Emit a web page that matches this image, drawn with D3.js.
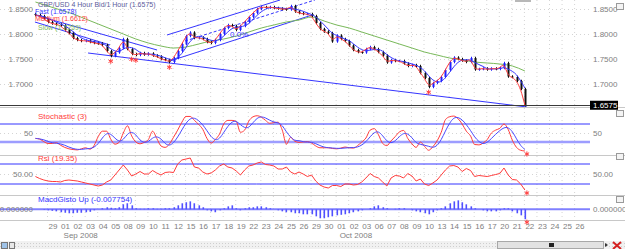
<!DOCTYPE html>
<html>
<head>
<meta charset="utf-8">
<script src="https://cdn.jsdelivr.net/npm/d3@7"></script>
<style>
  body { margin: 0; background: #fff; overflow: hidden; }
  text { font-family: "Liberation Sans", Arial, sans-serif; font-size: 8px; }
</style>
</head>
<body>
<div id="chart"></div>
<script>
// GBP/USD 4 hour chart, 28 Aug - 22 Oct 2008, three indicator panels below

const dayLabels = ["29","01","02","03","04","05","08","09","10","11","12","15","16","17","18","19",
  "22","23","24","25","26","29","30","01","02","03","06","07","08","09","10","13","14","15","16","17",
  "20","21","22","23","24","25","26"];
const monthLabels = [{day: 1, text: "Sep 2008"}, {day: 23, text: "Oct 2008"}];
const priceTicks = [1.70, 1.75, 1.80, 1.85];

// one value every 8 hours, starting 28 Aug
const closes = [
  1.838,1.836,1.830,1.824,1.821,1.819,1.817,1.808,1.802,1.792,
  1.788,1.786,1.787,1.784,1.782,1.781,1.778,1.766,1.756,1.763,
  1.772,1.790,1.770,1.760,1.758,1.762,1.759,1.761,1.757,1.755,
  1.750,1.748,1.744,1.752,1.766,1.780,1.796,1.803,1.792,1.793,
  1.790,1.784,1.782,1.788,1.800,1.812,1.818,1.816,1.808,1.816,
  1.824,1.834,1.842,1.850,1.854,1.853,1.854,1.852,1.851,1.850,
  1.849,1.856,1.845,1.842,1.840,1.840,1.836,1.822,1.810,1.805,
  1.802,1.785,1.797,1.790,1.786,1.777,1.768,1.764,1.763,1.770,
  1.774,1.770,1.764,1.757,1.743,1.748,1.746,1.746,1.741,1.736,
  1.738,1.736,1.722,1.712,1.694,1.702,1.706,1.714,1.728,1.744,
  1.753,1.750,1.747,1.744,1.752,1.729,1.730,1.731,1.729,1.731,
  1.730,1.732,1.742,1.715,1.714,1.706,1.690,1.6575];

// slow moving average, one value per day
const slowMA = [
  1.864,1.856,1.848,1.840,1.830,1.820,1.810,1.800,1.790,1.782,
  1.776,1.772,1.774,1.780,1.786,1.790,1.796,1.804,1.812,1.818,
  1.824,1.828,1.834,1.826,1.818,1.812,1.804,1.796,1.788,1.780,
  1.772,1.764,1.758,1.752,1.748,1.744,1.742,1.740,1.736,1.726];

const stochK = [
  35,33,26,21,21,23,16,10,6,4,
  3,6,9,5,15,40,55,55,33,19,
  24,50,70,42,25,20,24,32,55,35,
  14,10,19,38,58,80,96,96,85,74,
  60,35,22,32,47,75,85,85,82,52,
  58,83,95,98,94,85,77,79,80,58,
  19,38,27,24,25,26,22,14,9,9,
  9,7,6,8,11,9,8,15,25,36,
  58,62,45,21,15,28,40,53,57,35,
  20,10,25,13,2,12,28,52,87,95,
  97,90,75,55,42,18,17,22,32,50,
  58,63,75,60,30,10,2,0];

const rsi = [
  45,41,38,36,35,35,34,37,38,37,
  36,34,32,30,28,26,28,34,38,48,
  58,68,58,46,50,55,50,50,57,52,
  48,53,54,53,70,78,80,82,64,62,
  54,50,52,58,66,70,64,62,56,48,
  58,66,68,72,74,69,68,66,60,60,
  64,54,50,54,50,45,48,36,28,24,
  22,27,27,25,30,30,28,29,34,42,
  51,45,42,34,26,42,47,46,42,51,
  46,36,40,30,27,32,38,48,58,66,
  67,64,55,61,57,45,47,46,45,47,
  49,51,62,48,39,38,30,18];

const macd = [
  0,0,-0.0004,-0.0008,-0.0012,-0.0016,-0.0023,-0.0027,-0.0031,-0.0031,
  -0.0027,-0.0027,-0.0023,-0.0020,-0.0008,0,0.0008,0.0016,0.0012,0.0008,
  0.0016,0.0039,0.0047,0.0031,0.0008,0.0004,0.0004,0.0008,0.0008,0.0004,
  0.0004,0.0008,0.0008,0.0016,0.0031,0.0047,0.0055,0.0062,0.0047,0.0031,
  0.0016,-0.0008,-0.0016,-0.0023,-0.0008,0.0008,0.0023,0.0031,0.0008,-0.0008,
  0.0008,0.0016,0.0016,0.0023,0.0023,0.0016,0.0008,0,-0.0008,-0.0016,
  -0.0023,-0.0023,-0.0031,-0.0031,-0.0039,-0.0039,-0.0039,-0.0055,-0.0070,-0.0070,
  -0.0062,-0.0055,-0.0047,-0.0043,-0.0039,-0.0031,-0.0023,-0.0016,-0.0008,0,
  0.0008,0.0023,0.0031,0.0016,0.0008,0,0.0004,0.0008,0.0008,0,
  -0.0008,-0.0016,-0.0023,-0.0031,-0.0039,-0.0023,-0.0008,0.0008,0.0023,0.0047,
  0.0062,0.0070,0.0055,0.0039,0.0023,0.0008,0,-0.0008,-0.0016,-0.0016,
  -0.0016,-0.0008,0.0008,0.0008,-0.0016,-0.0031,-0.0047,-0.007754];

// fractal lows (sample index)
const fractals = [18, 23, 24, 32, 94, 117];

// hand drawn lines: [day, price] pairs
const trendLines = [
  {pts: [[-1.04, 1.838], [8.69, 1.768]]},
  {pts: [[-1.04, 1.824], [4.94, 1.778]]},
  {pts: [[3.19, 1.762], [38.17, 1.654]]},
  {pts: [[9.48, 1.798], [18.49, 1.868]]},
  {pts: [[9.72, 1.746], [21.04, 1.838]]},
  {pts: [[10.92, 1.786], [21.27, 1.868]], dash: true}
];

const width = 625, height = 249;
const plotRight = 590;
const blue = "#3535ff", red = "#ff3b3b", green = "#79b95a", grey = "#808080";

const svg = d3.select("#chart").append("svg")
    .attr("width", width)
    .attr("height", height);

svg.append("rect").attr("width", width).attr("height", height).attr("fill", "#fff");

// scales
const x = d3.scaleLinear().domain([0, 42]).range([48, 48 + 42 * 12.55]);
const xk = d3.scaleLinear().domain([0, closes.length - 1]).range([x(-1), x(38)]);
const yP = d3.scaleLinear().domain([1.65, 1.85]).range([109, 9]);
const yS = d3.scaleLinear().domain([0, 100]).range([151, 115]);
const yR = d3.scaleLinear().domain([0, 100]).range([199, 149]);
const yM = d3.scaleLinear().domain([-0.01, 0.01]).range([222.1, 196.5]);

const rolling = (arr, n) => arr.map((v, i) => d3.mean(arr.slice(Math.max(0, i - n + 1), i + 1)));

// clip paths per panel
const defs = svg.append("defs");
const panels = {main: [0, 107], stoch: [109, 154], rsi: [156, 194], macd: [196, 220]};
Object.entries(panels).forEach(([k, r]) => {
  defs.append("clipPath").attr("id", "clip-" + k)
    .append("rect").attr("x", 0).attr("y", r[0]).attr("width", plotRight).attr("height", r[1] - r[0]);
});

// vertical dotted grid, one per day
svg.append("g").selectAll("line")
  .data(d3.range(dayLabels.length))
  .join("line")
    .attr("x1", d => x(d) - 0.5).attr("x2", d => x(d) - 0.5)
    .attr("y1", 0).attr("y2", 220)
    .attr("stroke", "#d4d4d4")
    .attr("stroke-dasharray", "1,3");

// horizontal dotted grid
const hGrid = [...priceTicks.map(yP), yS(50), yR(50)];
svg.append("g").selectAll("line")
  .data(hGrid)
  .join("line")
    .attr("x1", 0).attr("x2", plotRight)
    .attr("y1", d => Math.round(d) + 0.5).attr("y2", d => Math.round(d) + 0.5)
    .attr("stroke", "#d4d4d4")
    .attr("stroke-dasharray", "1,3");

// panel separators
svg.append("g").selectAll("line")
  .data([107.5, 155.5, 195.5, 220.5])
  .join("line")
    .attr("x1", 0).attr("x2", width)
    .attr("y1", d => d).attr("y2", d => d)
    .attr("stroke", "#c8c8c8");

// ---------- main panel ----------
const main = svg.append("g").attr("clip-path", "url(#clip-main)");

main.selectAll(".trend")
  .data(trendLines)
  .join("line")
    .attr("x1", d => x(d.pts[0][0])).attr("y1", d => yP(d.pts[0][1]))
    .attr("x2", d => x(d.pts[1][0])).attr("y2", d => yP(d.pts[1][1]))
    .attr("stroke", blue)
    .attr("stroke-width", 1)
    .attr("stroke-dasharray", d => d.dash ? "3,2" : null);

main.append("path")
  .datum(slowMA)
  .attr("fill", "none")
  .attr("stroke", green)
  .attr("stroke-width", 1)
  .attr("d", d3.line().x((d, i) => x(i - 1)).y(d => yP(d)).curve(d3.curveMonotoneX));

const bars = closes.map((c, i) => {
  const o = i ? closes[i - 1] : c + 0.002;
  return {i, o, c, hi: Math.max(o, c) + 0.0025, lo: Math.min(o, c) - 0.0025};
});

main.selectAll(".wick")
  .data(bars)
  .join("line")
    .attr("x1", d => Math.round(xk(d.i)) + 0.5).attr("x2", d => Math.round(xk(d.i)) + 0.5)
    .attr("y1", d => yP(d.hi)).attr("y2", d => yP(d.lo))
    .attr("stroke", d => d.c >= d.o ? "#2020ff" : "#111");

main.selectAll(".body")
  .data(bars)
  .join("rect")
    .attr("x", d => Math.round(xk(d.i)) - 0.5)
    .attr("width", 2)
    .attr("y", d => yP(Math.max(d.o, d.c)))
    .attr("height", d => Math.max(1, yP(Math.min(d.o, d.c)) - yP(Math.max(d.o, d.c))))
    .attr("fill", d => d.c >= d.o ? "#2020ff" : "#111");

main.append("path")
  .datum(rolling(closes, 4))
  .attr("fill", "none")
  .attr("stroke", blue)
  .attr("stroke-width", 1)
  .attr("d", d3.line().x((d, i) => xk(i)).y(d => yP(d)).curve(d3.curveBasis));

main.append("path")
  .datum(closes)
  .attr("fill", "none")
  .attr("stroke", red)
  .attr("stroke-width", 1)
  .attr("d", d3.line().x((d, i) => xk(i)).y(d => yP(d)).curve(d3.curveBasis));

const mark = d3.symbol(d3.symbolAsterisk, 18);
main.selectAll(".fractal")
  .data(fractals)
  .join("path")
    .attr("d", mark)
    .attr("transform", d => `translate(${xk(d)},${yP(bars[d].lo) + 4})`)
    .attr("fill", "none")
    .attr("stroke", red);

// current price line
const last = closes[closes.length - 1];
svg.append("line")
  .attr("x1", 0).attr("x2", plotRight)
  .attr("y1", Math.round(yP(last)) + 0.5).attr("y2", Math.round(yP(last)) + 0.5)
  .attr("stroke", "#3a3a3a");
svg.append("rect")
  .attr("x", plotRight).attr("y", yP(last) - 4.5)
  .attr("width", 28).attr("height", 9)
  .attr("fill", "#000");
svg.append("text")
  .attr("x", plotRight + 3).attr("y", yP(last) + 3)
  .attr("fill", "#fff")
  .text(d3.format(".4f")(last));

// chart titles in the main panel
const legend = [
  {t: "GBP/USD 4 Hour Bid/1 Hour (1.6575)", c: "#5b5b9b", x: 38, y: 7},
  {t: "Fast (1.6578)", c: blue, x: 35, y: 14},
  {t: "Medium (1.6612)", c: red, x: 35, y: 21},
  {t: "Slow (1.7259)", c: green, x: 38, y: 30}
];
svg.append("g").selectAll("text")
  .data(legend)
  .join("text")
    .attr("x", d => d.x).attr("y", d => d.y)
    .attr("fill", d => d.c)
    .style("font-size", "7px")
    .text(d => d.t);
svg.append("text").attr("x", 230).attr("y", 37).attr("fill", blue).text("0.0%");

// price axes, left and right
const axisStyle = g => {
  g.select(".domain").remove();
  g.selectAll("text").attr("fill", grey).style("font-size", "8px")
    .style("font-family", "'Liberation Sans', Arial, sans-serif");
};
svg.append("g").attr("transform", "translate(35,0)")
  .call(d3.axisLeft(yP).tickValues(priceTicks).tickFormat(d3.format(".4f")).tickSize(0).tickPadding(2))
  .call(axisStyle);
svg.append("g").attr("transform", `translate(${plotRight},0)`)
  .call(d3.axisRight(yP).tickValues(priceTicks).tickFormat(d3.format(".4f")).tickSize(0).tickPadding(3))
  .call(axisStyle);

// ---------- stochastic ----------
const stoch = svg.append("g").attr("clip-path", "url(#clip-stoch)");
stoch.append("line").attr("x1", 0).attr("x2", plotRight)
  .attr("y1", yS(75)).attr("y2", yS(75)).attr("stroke", blue);
stoch.append("line").attr("x1", 0).attr("x2", plotRight)
  .attr("y1", yS(25)).attr("y2", yS(25)).attr("stroke", "#9d9dff").attr("stroke-width", 2.5);
stoch.append("path")
  .datum(stochK)
  .attr("fill", "none").attr("stroke", red)
  .attr("d", d3.line().x((d, i) => xk(i)).y(d => yS(d)).curve(d3.curveMonotoneX));
stoch.append("path")
  .datum(rolling(stochK, 3))
  .attr("fill", "none").attr("stroke", "#4a4aff")
  .attr("d", d3.line().x((d, i) => xk(i)).y(d => yS(d)).curve(d3.curveBasis));
svg.append("text").attr("x", 38).attr("y", 119).attr("fill", red).text("Stochastic (3)");
svg.append("g").attr("transform", "translate(35,0)")
  .call(d3.axisLeft(yS).tickValues([50]).tickSize(0).tickPadding(2)).call(axisStyle);
svg.append("g").attr("transform", `translate(${plotRight},0)`)
  .call(d3.axisRight(yS).tickValues([50]).tickSize(0).tickPadding(3)).call(axisStyle);

// ---------- rsi ----------
const rsiG = svg.append("g").attr("clip-path", "url(#clip-rsi)");
[70, 30].forEach(v => {
  rsiG.append("line").attr("x1", 0).attr("x2", plotRight)
    .attr("y1", yR(v)).attr("y2", yR(v)).attr("stroke", blue);
});
rsiG.append("path")
  .datum(rsi)
  .attr("fill", "none").attr("stroke", red)
  .attr("d", d3.line().x((d, i) => xk(i)).y(d => yR(d)));
svg.append("text").attr("x", 38).attr("y", 161).attr("fill", red).text("Rsi (19.35)");
svg.append("g").attr("transform", "translate(35,0)")
  .call(d3.axisLeft(yR).tickValues([50]).tickFormat(d3.format(".2f")).tickSize(0).tickPadding(2)).call(axisStyle);
svg.append("g").attr("transform", `translate(${plotRight},0)`)
  .call(d3.axisRight(yR).tickValues([50]).tickFormat(d3.format(".2f")).tickSize(0).tickPadding(3)).call(axisStyle);

// ---------- macd histogram ----------
const macdG = svg.append("g").attr("clip-path", "url(#clip-macd)");
macdG.append("line").attr("x1", 0).attr("x2", plotRight)
  .attr("y1", yM(0)).attr("y2", yM(0)).attr("stroke", "#8080ff").attr("stroke-width", 2);
macdG.selectAll(".hist")
  .data(macd)
  .join("rect")
    .attr("x", (d, i) => Math.round(xk(i)) - 0.5)
    .attr("width", 1.6)
    .attr("y", d => Math.min(yM(d), yM(0)))
    .attr("height", d => Math.abs(yM(d) - yM(0)))
    .attr("fill", "#5050ff");
svg.append("text").attr("x", 38).attr("y", 202).attr("fill", blue).text("MacdGisto Up (-0.007754)");
svg.append("g").attr("transform", "translate(35,0)")
  .call(d3.axisLeft(yM).tickValues([0]).tickFormat(d3.format(".6f")).tickSize(0).tickPadding(2)).call(axisStyle);
svg.append("g").attr("transform", `translate(${plotRight},0)`)
  .call(d3.axisRight(yM).tickValues([0]).tickFormat(d3.format(".6f")).tickSize(0).tickPadding(3)).call(axisStyle);

// end markers on the indicators
const lastI = closes.length - 1;
svg.selectAll(".endmark")
  .data([yS(stochK[lastI]) + 3, yR(rsi[lastI]) + 3, yM(macd[lastI]) + 3])
  .join("path")
    .attr("d", mark)
    .attr("transform", d => `translate(${xk(lastI) + 2},${d})`)
    .attr("fill", "none")
    .attr("stroke", red);

// ---------- date axis ----------
svg.append("g").attr("transform", "translate(0,223)")
  .call(d3.axisBottom(x).tickValues(d3.range(dayLabels.length)).tickFormat(i => dayLabels[i]).tickSize(0).tickPadding(0))
  .call(axisStyle)
  .call(g => g.selectAll("text").attr("text-anchor", "start").attr("dy", "0.71em"));
svg.append("g").selectAll("text")
  .data(monthLabels)
  .join("text")
    .attr("x", d => x(d.day) + 3).attr("y", 238)
    .attr("fill", grey)
    .text(d => d.text);

// ---------- bottom strip with scrollbar ----------
const strip = svg.append("g");
strip.append("rect").attr("x", 0).attr("y", 241).attr("width", width).attr("height", 8).attr("fill", "#f1f1f1");
[243.5, 246.5].forEach(yy => {
  strip.append("line").attr("x1", 0).attr("x2", width).attr("y1", yy).attr("y2", yy)
    .attr("stroke", "#cfcfcf").attr("stroke-dasharray", "1,2");
});
strip.append("rect").attr("x", 1.5).attr("y", 242.5).attr("width", 6).attr("height", 6)
  .attr("fill", "#9fc3e8").attr("stroke", "#777");
strip.append("rect").attr("x", 9.5).attr("y", 242.5).attr("width", 5).attr("height", 6)
  .attr("fill", "#e8e8e8").attr("stroke", "#777");
strip.append("rect").attr("x", 497.5).attr("y", 241.5).attr("width", 106).attr("height", 7)
  .attr("fill", "#e2e2e2").attr("stroke", "#a8a8a8");
strip.append("rect").attr("x", 549).attr("y", 243).attr("width", 5).attr("height", 4).attr("fill", "#222");
strip.append("path").attr("d", "M605,243 L608,245 L605,247 Z").attr("fill", "#333");
strip.append("path").attr("d", "M613,242 L621,249 M621,242 L613,249")
  .attr("stroke", "#d42020").attr("stroke-width", 2);

// small panel buttons on the right
svg.append("g").selectAll("rect")
  .data([3, 110, 153, 196])
  .join("rect")
    .attr("x", 616.5).attr("y", d => d + 0.5)
    .attr("width", 7).attr("height", 6)
    .attr("fill", "#f4f4f4").attr("stroke", "#9a9a9a");
svg.append("rect").attr("x", 515).attr("y", 0).attr("width", 16).attr("height", 2).attr("fill", "#b8b8b8");
</script>
</body>
</html>
